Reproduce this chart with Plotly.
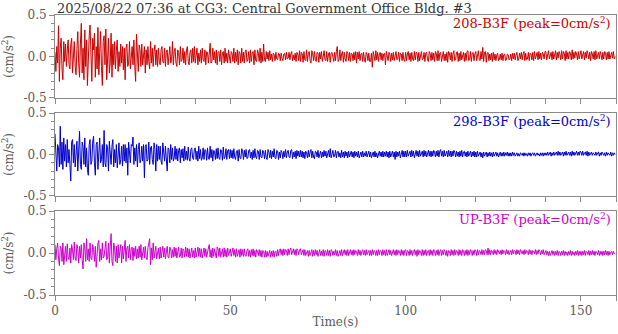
import plotly.graph_objects as go
from plotly.subplots import make_subplots

# sample spacing of the traces (s)
dt = 0.25

# acceleration traces, every 0.25 s, in units of 0.01 cm/s^2
# (one line = 10 s)
acc_208 = [
    5, -18, 12, -8, 37, -30, 10, 22, -15, -28, 18, -6, 15, -12, 8, 20, -10, -15, 14, 22, -20, 5, 18, -12, -22, 10, 30, -8, -25, 15, 40, -20, 10, -28, 32, -12, 20, -35, 6, 25,
    38, -18, -30, 22, 8, 28, -25, 12, -15, 35, -22, 5, 30, -12, -35, 18, 25, -10, 33, -28, 12, 22, -20, -8, 28, -25, 15, -10, 18, -15, 8, 20, -18, 6, -12, 15, -8, 12, -16, 10,
    -28, 10, 15, -12, -8, 18, -15, 6, 12, -10, 20, -12, -30, 27, -5, -18, 14, 8, -12, 15, -10, 5, 12, -20, 8, -10, 12, -6, -15, 18, -8, 10, -12, 6, 14, -10, 8, -12, 10, -6,
    -10, 8, 12, -6, -8, 10, -12, 5, 8, -10, 6, 12, -8, -4, 18, -10, 6, 10, -8, -12, 8, 5, -10, 12, -6, -4, 10, -8, 6, -10, 8, 12, -6, -10, 5, 8, -8, 10, -6, 12,
    -8, 6, 10, -10, 4, -6, 8, -8, 10, -4, -6, 8, -10, 6, 5, -8, 8, 16, -8, -6, 10, -4, 6, -8, 8, -10, 5, 6, -6, 8, -10, 4, 6, -8, 10, -6, 4, -8, 8, -5,
    -8, 6, 4, -6, 10, -8, 5, -6, 8, -10, 6, 4, -8, 10, -6, 5, -8, 6, 8, -6, -4, 6, -8, 8, -6, 4, 6, -10, 8, -5, -6, 8, 4, -6, 10, -8, 5, -6, 15, -4,
    -6, 6, -3, 5, -5, 7, -4, 3, -6, 4, 2, -5, 5, -3, -4, 4, 3, -5, 4, -2, -5, 3, 4, -4, 5, -3, -2, 5, -4, 3, 6, -5, 2, -4, 4, -6, 5, 3, -5, 7,
    -6, 5, 3, -7, 6, -4, -5, 8, -6, 4, 6, -5, -8, 7, 3, -5, 6, -4, -6, 5, 4, -7, 5, -3, 6, -6, 4, 7, -4, -5, 6, -6, 3, 5, -7, 4, 5, -4, -6, 5,
    -5, 6, 12, -6, -4, 8, -5, 3, 6, -7, 5, -3, -6, 6, 4, -5, 5, -6, 4, 3, -5, 5, -4, 6, -8, 5, -3, 6, -5, 3, 4, -6, 5, -4, -7, 5, 3, -5, 4, -6,
    -6, 4, -13, 6, -3, -5, 7, -4, 5, -6, 3, 5, -4, 4, -5, 3, 4, -10, 6, -3, -5, 5, 3, -6, 4, -4, 5, -5, 3, 6, -4, -3, 5, -6, 4, 3, -5, 5, -4, -6,
    5, -5, 3, 6, -4, 4, -6, 5, -3, -5, 6, -4, 5, 4, -6, 5, -5, 3, 6, -4, -3, 5, -6, 4, 5, -4, -6, 6, 3, -5, 5, -4, 4, -6, 6, 3, -5, 7, -5, 4,
    5, -6, 4, 6, -5, 3, -5, 5, -7, 6, 4, -4, 5, -6, 3, 7, -5, -4, 5, 6, -6, 4, -5, 6, -4, 3, 5, -6, 4, -5, 6, 7, -5, -4, 6, -6, 4, 5, -5, 3,
    6, -5, 4, 7, -4, -5, 6, -3, 11, -6, 5, 6, -7, 4, 5, -5, 3, -4, 4, -6, 5, -4, 3, -5, 2, 4, -5, -3, 3, -4, 4, -5, 2, 3, -5, -4, 3, 2, -4, -3,
    3, -5, 4, -3, 4, -4, 2, 5, -5, -3, 4, -3, 5, -4, 3, 6, -5, 4, -4, -3, 5, -5, 4, 3, -4, 5, -5, 6, -3, 4, 5, -4, 6, -3, 4, -4, 5, 3, -3, 6,
    6, -4, 3, 7, -3, 4, 5, -4, 6, -3, 2, 7, -4, 5, -2, 6, 3, -4, 7, -3, 6, 4, -5, 7, -3, 5, -3, 6, 4, -4, 8, -3, 5, -2, 6, 3, -4, 6, -3, 5,
    7, -3, 4, 6, -4, 5, -2, 7, 3, -3, 5, -5, 6, 3, -3, 6, -4, 7, -3, 4, 5, -3, 6, 2, -4, 5, -3, 6, 4, -4, 5, -3, 6, -3, 4, 5, -2, 6, -3, 0,
]

acc_298 = [
    25, -10, -20, 12, 8, -15, 34, -12, 15, -18, 20, -8, 12, -15, 18, -10, 6, -12, -32, 15, 18, -10, 12, -15, 8, 16, -20, 10, 28, -12, -18, 15, 10, -12, 20, -15, 8, -18, -25, 12,
    18, -12, -8, 15, 22, -10, -25, 12, 15, -18, 8, 20, -10, -6, 12, -15, 29, -10, -15, 12, 8, -20, 16, -8, -12, 10, 18, -15, 6, -10, 12, -16, 8, 14, -12, -6, 10, -14, 12, -8,
    12, -10, 8, -25, 15, -6, -10, 12, 10, 21, -12, 8, -8, 12, -15, 6, 14, -10, -6, 10, -8, 12, -28, 10, 12, -8, -6, 15, -12, 8, 10, -6, -12, 14, 6, -20, 12, -8, 10, -6,
    10, -8, -12, 14, 6, -8, 10, -4, -20, 8, 6, -10, 12, -6, 8, -8, -4, 10, -6, 7, -8, 5, 8, -10, 6, -4, 7, -8, 10, -6, 4, -7, 9, -5, -8, 6, 8, -4, -6, 7,
    8, -6, 4, -8, 10, -5, 6, -7, -4, 8, -6, 6, 5, -7, 8, -5, -6, 10, -4, 6, -8, 5, 4, -6, 7, -5, 8, -4, -6, 6, 5, -7, 9, -5, -3, 7, -6, 5, 6, -5,
    6, -4, 5, -5, 7, -3, -6, 4, 5, -8, 6, -4, -5, 7, 4, -6, 5, -3, 6, -5, -4, 5, 6, -4, 3, -6, 5, -4, 7, -3, -5, 5, 4, -6, 6, -3, -4, 5, 3, -5,
    5, -4, -6, 6, 3, -4, 5, -5, 4, -3, 7, -4, -5, 5, 4, -6, 3, -4, 5, 2, -5, 4, -3, 6, -4, 3, 5, -3, -4, 5, 6, -5, 3, -3, 4, -5, 5, -2, 4, -3,
    5, -3, 4, -4, 3, -5, 4, 2, -4, 5, -3, 3, 6, -4, 4, -3, -5, 4, 3, -3, 5, -4, 2, 4, -4, 3, -3, 5, -2, 4, -4, 3, 5, -3, 7, -4, 3, 5, -3, -2,
    5, -4, 3, 4, -3, 2, -4, 5, -3, 3, -4, 4, -2, 3, -4, 4, -3, 2, 4, -3, 3, -4, 4, -2, 3, -3, 4, -4, 2, 3, -3, 4, -3, 2, -2, 4, -3, 3, 4, -3,
    3, -4, 2, 3, -3, 4, -3, 2, -4, 3, 4, -2, 3, -3, 4, -3, 3, -2, 4, -3, 3, -4, 4, -3, 2, 4, -3, 3, -6, 4, -3, 3, -2, 4, -4, 3, 5, -3, 4, -3,
    4, -3, 5, -2, 3, 4, -3, 5, -2, 4, -4, 3, 5, -2, 4, -3, 5, -2, 3, 4, -3, 5, -2, 4, -3, 3, 5, -2, 4, -3, 4, -2, 5, 3, -3, 4, -2, 5, -3, 4,
    6, -2, 4, -3, 5, -2, 3, 4, -3, 5, -2, 4, -3, 4, -2, 5, 3, -3, 4, -2, 3, -3, 4, -2, 5, -3, 3, 4, -2, 3, -3, 4, -2, 3, 4, -3, 3, -2, 4, -3,
    3, -3, 4, -2, 2, 3, -3, 2, -4, 3, -2, 2, 3, -3, 2, -2, 3, -2, 2, -3, 3, -2, 2, 3, -2, 2, -3, 2, 3, -2, 2, -2, 3, -2, 2, -1, 3, -2, 2, -2,
    2, -2, 3, -1, 2, -2, 1, 2, -2, 1, -2, 2, 1, -1, 2, -2, 2, -1, 1, -2, 2, -1, 2, -2, 1, 2, -1, 2, -2, 1, 2, -1, 1, -2, 2, -1, 2, -2, 2, -1,
    2, -1, 3, -1, 2, 3, -2, 2, -1, 3, -1, 2, 3, -1, 4, -1, 3, -1, 2, 3, -2, 3, -1, 4, -1, 2, 3, -1, 3, -2, 4, -1, 3, -1, 2, 4, -1, 3, -1, 4,
    3, -1, 4, -1, 2, 3, -1, 4, -2, 3, -1, 2, 3, -1, 2, 1, -1, 3, -1, 2, 3, -2, 2, -1, 3, 1, -1, 2, -2, 3, -1, 2, 1, -1, 3, -2, 2, -1, 2, 0,
]

acc_up = [
    10, -8, 5, 12, -6, -15, 8, 6, -10, 12, -14, 5, 8, -10, 11, -6, -8, 6, -12, 10, 4, -8, 13, -6, -9, 10, 5, -12, 8, -6, 10, -8, -19, 12, 6, -10, 17, -8, 5, -10,
    12, -6, -8, 10, 4, -10, 8, -17, 6, 12, 15, -10, 5, -8, 12, -6, -4, 10, 14, -8, -6, 12, -12, 8, 23, -10, -15, 12, 6, -10, 8, -12, 10, -6, 5, 10, -12, 8, -7, 6,
    15, -10, 6, 8, -6, 10, -8, 5, 7, -9, 6, -4, 8, -7, 5, -6, 8, -5, 10, -8, 4, 7, -6, 8, -5, -8, 6, 10, 17, -14, 6, -8, 12, -6, 5, 8, -7, 4, 6, -7,
    7, -6, 4, 8, -5, 6, -7, 3, 8, -5, -6, 7, 5, -6, 4, -5, 7, -4, 6, -6, 5, 7, -5, -4, 6, -6, 5, 3, -5, 7, -4, 6, -5, 5, -6, 4, 6, -5, 3, -6,
    6, -5, 4, 7, -4, 6, -5, 5, -6, 4, 6, -4, 5, -5, 3, 6, 10, -5, 4, -6, 6, -4, 5, -3, -6, 7, 5, -4, 6, -5, 3, 5, -5, 6, -4, 4, -5, 6, -3, 4,
    5, -4, 3, 6, -3, 4, -5, 5, -4, 3, 4, -5, 5, -3, 4, -4, 5, -3, -4, 3, 5, -4, 3, -5, 4, -3, 5, -4, 3, -5, 4, 2, -3, 4, -4, 3, -5, 3, 2, -5,
    3, -5, 2, -4, 1, 3, -5, 2, -4, 3, -5, 2, 2, -4, 4, -3, 3, 5, -2, 4, -3, 5, -2, 4, 3, -3, 5, -2, 4, 6, -2, 3, 5, -2, 4, -3, 5, 3, -2, 4,
    5, -2, 3, 4, -3, 4, -3, 2, 3, -4, 3, -3, 2, 4, -4, 3, -3, 4, -2, 3, -4, 3, 4, -3, 2, -3, 4, -4, 3, 2, -3, 4, -3, 3, -4, 4, 3, -3, 2, -2,
    4, -3, 3, -4, 2, 3, -3, 4, -3, 3, 4, -2, 3, -3, 4, -3, 2, 4, -2, 3, -3, 4, -2, 3, 2, -3, 4, -2, 3, -3, 2, 4, -2, 3, -3, 4, -2, 2, 3, -3,
    3, -3, 4, -2, 3, 2, -3, 3, -3, 4, -2, 3, 2, -3, 4, -2, 3, -3, 4, -3, 3, 4, -2, 3, -3, 2, 4, -2, 3, -3, 4, -2, 3, 2, -3, 4, -2, 3, -3, 3,
    4, -3, 3, 2, -3, 4, -2, 3, -3, 2, 4, -2, 3, -4, 4, -2, 3, 2, -3, 4, -3, 3, -2, 4, -3, 2, 3, -3, 4, -2, 3, -3, 4, 2, -3, 3, -2, 4, -3, 2,
    4, -3, 3, -2, 4, 2, -3, 3, -4, 3, 2, -3, 4, -2, 3, -3, 4, -2, 3, 2, -3, 4, -2, 3, -3, 4, 2, -3, 3, -2, 4, -3, 3, -2, 4, 2, -3, 3, -2, 4,
    3, -3, 4, -2, 3, 2, -2, 4, -2, 3, -2, 4, 3, -2, 6, -2, 4, -2, 3, 2, -2, 4, -1, 3, -2, 4, 2, -1, 3, -2, 4, -1, 3, 2, -2, 4, -1, 3, -2, 2,
    3, -2, 4, -1, 3, 2, -2, 4, -1, 3, -2, 4, 2, -1, 3, -2, 4, -1, 3, 2, -2, 4, -1, 3, -2, 3, 2, -1, 4, -2, 3, -1, 4, 2, -2, 3, -1, 4, -2, 2,
    3, -2, 2, -3, 2, -3, 1, 3, -2, 2, -3, 2, -2, 3, -3, 2, 1, -3, 2, -2, 3, -3, 2, -2, 1, -3, 2, -2, 3, -3, 2, -2, 1, -3, 2, -2, 3, -3, 2, -2,
    2, -3, 2, -2, 3, -3, 2, 1, -2, 3, -3, 2, -2, 3, -2, 2, -3, 2, 1, -2, 3, -3, 2, -2, 2, -3, 2, -2, 3, -2, 2, -3, 2, -2, 1, 2, -2, 2, -1, 0,
]

channels = ["208-B3F", "298-B3F", "UP-B3F"]
peaks = [0, 0, 0]
colors = ["#cc0000", "#0000cc", "#cc00cc"]
traces = [acc_208, acc_298, acc_up]

title = "2025/08/22 07:36 at CG3: Central Government Office Bldg. #3"
x_ticks = list(range(0, 161, 10))
x_labels = [str(v) if v % 50 == 0 else "" for v in x_ticks]

FONT = "DejaVu Serif"
GRAY = "#5a5a5a"
FRAME = "#8a8a8a"

fig = make_subplots(rows=3, cols=1)

for i, (acc, col) in enumerate(zip(traces, colors)):
    t = [k * dt for k in range(len(acc))]
    y = [v / 100 for v in acc]
    fig.add_trace(go.Scatter(x=t, y=y, mode="lines",
                             line=dict(color=col, width=1),
                             showlegend=False), row=i + 1, col=1)

domains = [[0.7036, 1.0], [0.3536, 0.65], [0.0, 0.3]]
for i in range(3):
    n = "" if i == 0 else str(i + 1)
    fig.layout["yaxis" + n].update(
        domain=domains[i], range=[-0.5, 0.5], automargin=False,
        tickvals=[-0.5, 0.0, 0.5], ticktext=["-0.5", "0.0", "0.5"],
        ticks="outside", ticklen=5, tickcolor=FRAME,
        minor=dict(dtick=0.1, ticks="outside", ticklen=3, tickcolor=FRAME, showgrid=False),
        showline=True, linecolor=FRAME, linewidth=1, mirror=True,
        showgrid=False, zeroline=False,
        tickfont=dict(family=FONT, size=12, color=GRAY),
        title=dict(text="(cm/s<sup>2</sup>)", standoff=12,
                   font=dict(family=FONT, size=12, color=GRAY)),
    )
    fig.layout["xaxis" + n].update(
        range=[0, 160], automargin=False, tickvals=x_ticks,
        ticktext=x_labels if i == 2 else [""] * len(x_ticks),
        ticks="outside", ticklen=5, tickcolor=FRAME,
        showline=True, linecolor=FRAME, linewidth=1, mirror=True,
        showgrid=False, zeroline=False,
        tickfont=dict(family=FONT, size=12, color=GRAY),
    )
    fig.add_annotation(
        text=f"{channels[i]} (peak={peaks[i]}cm/s<sup>2</sup>)",
        xref=("x" + n + " domain"), yref=("y" + n + " domain"),
        x=1, y=1, xanchor="right", yanchor="top", xshift=-3, yshift=2,
        showarrow=False, font=dict(family=FONT, size=13, color=colors[i]),
    )

fig.layout.xaxis3.title = dict(text="Time(s)", standoff=0,
                               font=dict(family=FONT, size=12, color=GRAY))

fig.add_annotation(text=title, xref="paper", yref="paper", x=0, y=1,
                   xanchor="left", yanchor="bottom", yshift=-3, showarrow=False,
                   font=dict(family=FONT, size=13, color="#333"))

fig.update_layout(
    width=618, height=334,
    margin=dict(l=55, r=2, t=15, b=39),
    paper_bgcolor="white", plot_bgcolor="white",
)

# the page's default 8px body margin would push the figure off the window
fig.write_html("out.html", config={"displayModeBar": False},
               post_script="document.body.style.margin = '0';")
